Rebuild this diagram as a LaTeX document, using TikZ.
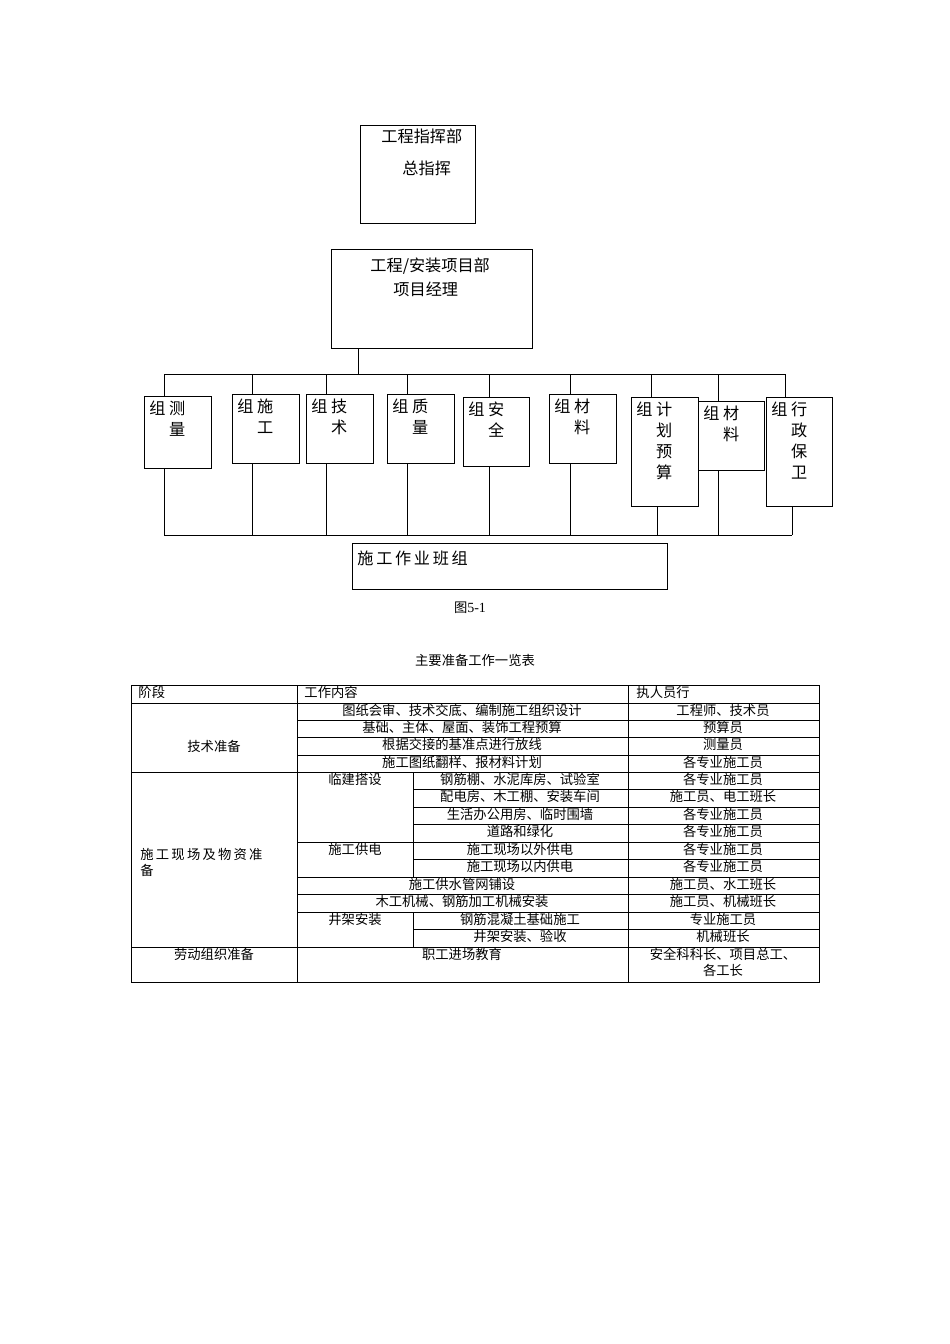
\documentclass[tikz,border=0pt]{standalone}
\usepackage{fontspec}
\setmainfont{Liberation Serif}
\newfontfamily\cjk{Noto Sans CJK SC}[Scale=0.95]
\begin{document}
\begin{tikzpicture}[x=1pt,y=-1pt,line width=0.9pt,
  bx/.style={draw,rectangle,inner sep=0pt},
  gl/.style={font=\cjk\fontsize{17}{21}\selectfont,align=left,anchor=north west,inner sep=0pt},
  tc/.style={font=\cjk\fontsize{14}{16}\selectfont,inner sep=0pt,anchor=north},
  tl/.style={font=\cjk\fontsize{14}{16}\selectfont,inner sep=0pt,anchor=north west,align=left}]
\useasboundingbox (0,0) rectangle (950,1344);
% top boxes
\draw (360,125) rectangle (475,223);
\node[gl] (t1) at (381,128) {工程指挥部};
\node[gl] (t2) at (402,160) {总指挥};
\draw (331,249) rectangle (532,348);
\node[gl] (t3) at (370,257) {工程/安装项目部};
\node[gl] (t4) at (393,281) {项目经理};
\coordinate (pm) at (358,348);
\coordinate (busTop) at (358,374);
\draw (pm) -- (busTop);
\draw (164,374) -- (785,374);
\draw (164,535) -- (792,535);
% groups: x1,y1,x2,y2,dropTop,dropBot,text
\foreach \a/\b/\c/\d/\t/\u/\txt in {
 144/396/211/468/164/164/{组 测\\\phantom{组 }量},
 232/394/299/463/252/252/{组 施\\\phantom{组 }工},
 306/394/373/463/326/326/{组 技\\\phantom{组 }术},
 387/394/454/463/407/407/{组 质\\\phantom{组 }量},
 463/397/529/466/489/489/{组 安\\\phantom{组 }全},
 549/394/616/463/570/570/{组 材\\\phantom{组 }料},
 631/397/698/506/651/657/{组 计\\\phantom{组 }划\\\phantom{组 }预\\\phantom{组 }算},
 698/401/764/470/718/718/{组 材\\\phantom{组 }料},
 766/397/832/506/785/792/{组 行\\\phantom{组 }政\\\phantom{组 }保\\\phantom{组 }卫}}{
 \draw[fill=white] (\a,\b) rectangle (\c,\d);
 \draw (\t,374) -- (\t,\b);
 \draw (\u,\d) -- (\u,535);
 \node[gl] at (\a+5,\b+4) {\txt};
}
\draw (352,543) rectangle (667,589);
\node[gl] (bt) at (357,550) {施\,工\,作\,业\,班\,组};
\node[font=\fontsize{14}{16}\selectfont] (cap) at (470,608) {{\cjk 图}5-1};
\node[font=\cjk\fontsize{14}{16}\selectfont] (ttl) at (475,660) {主要准备工作一览表};
% table
\begin{scope}[line width=0.7pt]
\draw (131,685) rectangle (819,982);
\draw (297,685) -- (297,982);
\draw (628,685) -- (628,982);
\draw (131,703) -- (819,703);
\draw (131,772) -- (819,772);
\draw (131,947) -- (819,947);
\foreach \y in {720,737,755,842,877,894,912} \draw (297,\y) -- (819,\y);
\foreach \y in {789,807,824,859,929} \draw (413,\y) -- (819,\y);
\draw (413,772) -- (413,877);
\draw (413,912) -- (413,947);
\end{scope}
\node[tl] at (138,686) {阶段};
\node[tl] at (304,686) {工作内容};
\node[tl] at (636,686) {执人员行};
\node[tc] at (462,704) {图纸会审、技术交底、编制施工组织设计};
\node[tc] at (462,721) {基础、主体、屋面、装饰工程预算};
\node[tc] at (462,738) {根据交接的基准点进行放线};
\node[tc] at (462,756) {施工图纸翻样、报材料计划};
\node[tc] at (214,740) {技术准备};
\node[tc] at (355,773) {临建\\搭设};
\node[tc,align=center] at (355,773) {\phantom{临建}\\\phantom{搭设}};
\node[tc] at (520,773) {钢筋棚、水泥库房、试验室};
\node[tc] at (520,790) {配电房、木工棚、安装车间};
\node[tc] at (520,808) {生活办公用房、临时围墙};
\node[tc] at (520,825) {道路和绿化};
\node[tc] at (355,843) {施工供电};
\node[tc] at (520,843) {施工现场以外供电};
\node[tc] at (520,860) {施工现场以内供电};
\node[tc] at (462,878) {施工供水管网铺设};
\node[tc] at (462,895) {木工机械、钢筋加工机械安装};
\node[tc] at (355,913) {井架安装};
\node[tc] at (520,913) {钢筋混凝土基础施工};
\node[tc] at (520,930) {井架安装、验收};
\node[tl,text width=158pt] at (140,848) {施\,工\,现\,场\,及\,物\,资\,准\\备};
\node[tc] at (214,948) {劳动组织准备};
\node[tc] at (462,948) {职工进场教育};
\foreach \y/\t in {704/工程师、技术员,721/预算员,738/测量员,756/各专业施工员,773/各专业施工员,790/施工员、电工班长,808/各专业施工员,825/各专业施工员,843/各专业施工员,860/各专业施工员,878/施工员、水工班长,895/施工员、机械班长,913/专业施工员,930/机械班长}
  \node[tc] at (723,\y) {\t};
\node[tc,align=center] at (723,948) {安全科科长、项目总工、\\各工长};
\end{tikzpicture}
\end{document}
